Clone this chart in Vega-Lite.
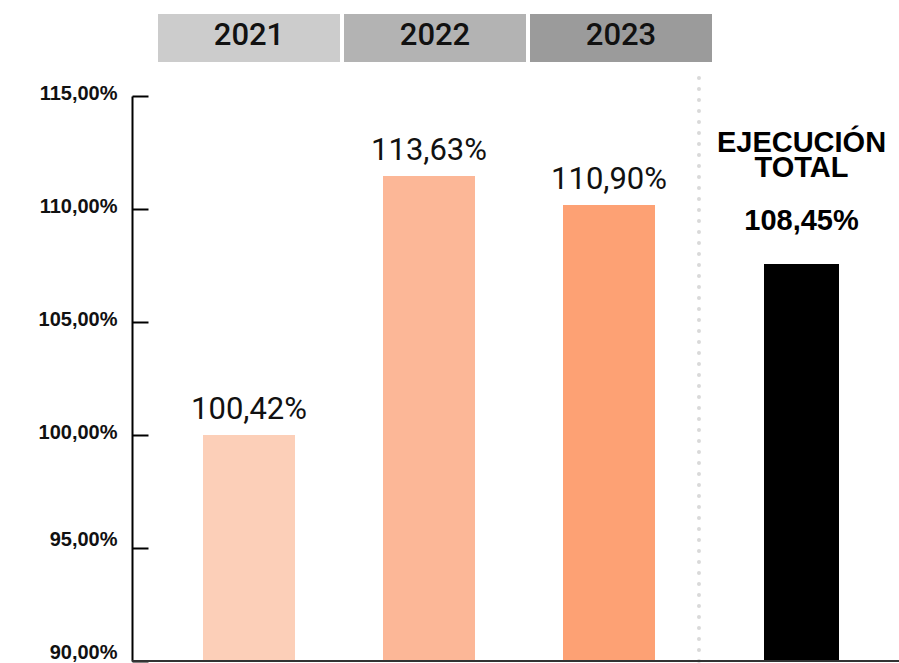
{
  "$schema": "https://vega.github.io/schema/vega-lite/v6.json",
  "width": 767,
  "height": 661,
  "padding": {"left": 0, "top": 0, "right": 0, "bottom": 2},
  "background": "#ffffff",
  "config": {"view": {"stroke": null}},
  "datasets": {
    "anios": [
      {"anio": "2021", "barra": 100.0, "etiqueta": "100,42%"},
      {"anio": "2022", "barra": 111.46, "etiqueta": "113,63%"},
      {"anio": "2023", "barra": 110.18, "etiqueta": "110,90%"}
    ],
    "total": [
      {"grupo": "TOTAL", "barra": 107.57, "etiqueta": "108,45%", "titulo": "EJECUCIÓN TOTAL"}
    ]
  },
  "resolve": {"scale": {"x": "independent", "color": "independent"}},
  "layer": [
    {
      "data": {"name": "anios"},
      "encoding": {
        "x": {"field": "anio", "type": "nominal", "axis": null,
              "scale": {"type": "band", "range": [26, 580], "paddingInner": 0.0215, "paddingOuter": 0}}
      },
      "layer": [
        {
          "mark": {"type": "rect"},
          "encoding": {
            "y": {"datum": 118.63, "type": "quantitative"},
            "y2": {"datum": 116.5},
            "color": {"field": "anio", "type": "nominal", "legend": null,
                      "scale": {"range": ["#cccccc", "#b3b3b3", "#9b9b9b"]}}
          }
        },
        {
          "mark": {"type": "text", "font": "Roboto", "fontSize": 31, "fontWeight": 500, "color": "#111111", "baseline": "middle"},
          "encoding": {
            "y": {"datum": 117.64, "type": "quantitative"},
            "text": {"field": "anio"}
          }
        }
      ]
    },
    {
      "data": {"name": "anios"},
      "encoding": {
        "x": {"field": "anio", "type": "nominal", "axis": null,
              "scale": {"type": "band", "range": [27, 567], "paddingInner": 0.4889, "paddingOuter": 0.2444}}
      },
      "layer": [
        {
          "mark": {"type": "bar"},
          "encoding": {
            "y": {"field": "barra", "type": "quantitative", "title": null,
                  "scale": {"domain": [90, 115], "range": [661, 96], "nice": false, "zero": false},
                  "axis": {
                    "values": [90, 95, 100, 105, 110, 115],
                    "labelExpr": "replace(format(datum.value, '.2f'), '.', ',') + '%'",
                    "title": null, "grid": false,
                    "domainColor": "#000000", "domainWidth": 2,
                    "tickColor": "#000000", "tickWidth": 2, "tickSize": -16,
                    "labelFont": "Liberation Sans", "labelFontSize": 20, "labelFontWeight": "bold",
                    "labelColor": "#111111", "labelPadding": 31,
                    "labelOffset": {"condition": {"test": "datum.value <= 95", "value": -9}, "value": -3},
                    "labelFlush": false, "labelOverlap": false,
                    "minExtent": 132, "maxExtent": 132
                  }},
            "y2": {"datum": 90},
            "color": {"field": "anio", "type": "nominal", "legend": null,
                      "scale": {"range": ["#fccfb8", "#fcb797", "#fda174"]}}
          }
        },
        {
          "mark": {"type": "text", "font": "Roboto", "fontSize": 31, "color": "#111111", "baseline": "alphabetic", "dy": -16},
          "encoding": {
            "y": {"field": "barra", "type": "quantitative", "title": null},
            "text": {"field": "etiqueta"}
          }
        },
        {
          "data": {"values": [{}]},
          "mark": {"type": "rule", "color": "#d9d9d9", "strokeWidth": 4, "strokeCap": "round", "strokeDash": [0, 11]},
          "encoding": {
            "x": {"datum": "2023", "bandPosition": 1.478},
            "y": {"datum": 115.8, "type": "quantitative"},
            "y2": {"datum": 90}
          }
        }
      ]
    },
    {
      "data": {"name": "total"},
      "encoding": {
        "x": {"field": "grupo", "type": "nominal", "axis": null,
              "scale": {"type": "band", "range": [632, 707], "paddingInner": 0, "paddingOuter": 0}}
      },
      "layer": [
        {
          "mark": {"type": "bar", "color": "#000000"},
          "encoding": {
            "y": {"field": "barra", "type": "quantitative", "title": null},
            "y2": {"datum": 90}
          }
        },
        {
          "mark": {"type": "text", "font": "Liberation Sans", "fontSize": 29, "fontWeight": "bold", "color": "#000000", "baseline": "alphabetic", "dy": -34},
          "encoding": {
            "y": {"field": "barra", "type": "quantitative", "title": null},
            "text": {"field": "etiqueta"}
          }
        },
        {
          "mark": {"type": "text", "font": "Liberation Sans", "fontSize": 29, "fontWeight": "bold", "color": "#000000", "baseline": "alphabetic", "lineBreak": " ", "lineHeight": 25, "dy": -112},
          "encoding": {
            "y": {"field": "barra", "type": "quantitative", "title": null},
            "text": {"field": "titulo"}
          }
        }
      ]
    },
    {
      "data": {"values": [{}]},
      "mark": {"type": "rule", "color": "#333333", "strokeWidth": 2},
      "encoding": {
        "y": {"datum": 90, "type": "quantitative"}
      }
    }
  ]
}
